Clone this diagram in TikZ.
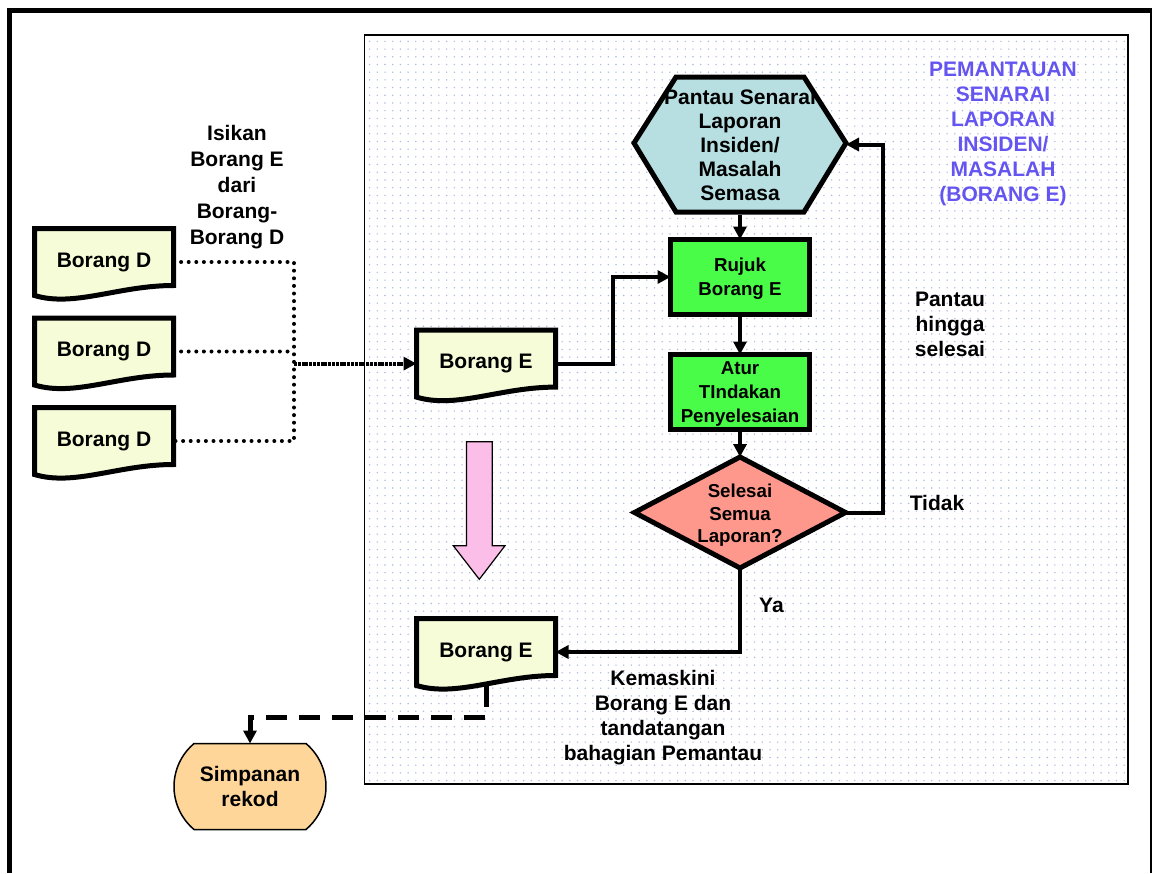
\documentclass[tikz,border=0pt]{standalone}
\usepackage{fontspec}
\setmainfont{Liberation Sans}
\usetikzlibrary{shapes.geometric, shapes.misc, arrows.meta, positioning, backgrounds, patterns.meta}

\definecolor{dokfill}{RGB}{246,252,216}
\definecolor{hexfill}{RGB}{183,222,224}
\definecolor{hijau}{RGB}{72,252,72}
\definecolor{salmon}{RGB}{255,152,140}
\definecolor{pic}{RGB}{251,190,232}
\definecolor{peach}{RGB}{254,214,154}
\definecolor{ungu}{RGB}{100,84,240}
\definecolor{titikbiru}{RGB}{172,184,226}

\begin{document}
\begin{tikzpicture}[x=1pt, y=-1pt,
		font=\bfseries\fontsize{21}{25}\selectfont,
		every node/.style={align=center, inner sep=0, outer sep=0},
		dok/.style={minimum width=139, minimum height=67},
		dokline/.style={draw, line width=5, fill=dokfill},
		heksagon/.style={draw, line width=5, fill=hexfill},
		proses/.style={draw, line width=5, fill=hijau, minimum width=139, minimum height=75, text depth=0pt, font=\bfseries\fontsize{18.7}{24}\selectfont},
		keputusan/.style={diamond, draw, line width=5, fill=salmon, minimum width=211, minimum height=111},
		simpan/.style={rounded rectangle, rounded rectangle arc length=100, draw, line width=1.5, fill=peach, minimum width=152, minimum height=86},
		panel/.style={draw, line width=1.8, pattern={Dots[distance=7.7pt, radius=0.8pt]}, pattern color=titikbiru},
		arrow/.style={-{Triangle[length=13pt, width=13pt]}, line width=4},
		titik/.style={line width=4, line cap=round, dash pattern=on 0pt off 7.6pt},
		rapat/.style={arrow, dash pattern=on 3pt off 0.8pt},
		putus/.style={arrow, line width=5, dash pattern=on 21pt off 12pt}
		]
		
		\useasboundingbox (0,0) rectangle (1154,873);
		
		% Frame
		\draw[line width=5] (9.7,873) |- (1151.2,10.8);
		\draw[line width=2.5] (1151.2,8.3) -- (1151.2,873);
		
		% Nodes
		\node (dokD1) [dok] at (104,262) {Borang D};
		\node (dokD2) [dok] at (104,351.5) {Borang D};
		\node (dokD3) [dok] at (104,441) {Borang D};
		\node (dokE1) [dok] at (486,363.6) {Borang E};
		\node (dokE2) [dok] at (486,652) {Borang E};
		\node (pantau) [minimum width=212, minimum height=135, font=\bfseries\fontsize{21}{24}\selectfont] at (740,144.5) {Pantau Senarai\\Laporan\\Insiden/\\Masalah\\Semasa};
		\node (rujuk) [proses] at (740,277) {Rujuk\\Borang E};
		\node (atur) [proses] at (740,392) {Atur\\TIndakan\\Penyelesaian};
		\node (selesai) [keputusan, label={[align=center, yshift=-3pt, font=\bfseries\fontsize{18.7}{22.5}\selectfont]center:{Selesai\\Semua\\Laporan?}}] at (740,512.5) {};
		\node (simpanan) [simpan] at (250,786.5) {Simpanan\\rekod};
		
		% Labels
		\node (isikan) [font=\bfseries\fontsize{21}{26}\selectfont] at (237,187) {Isikan\\Borang E\\dari\\Borang-\\Borang D};
		\node (judul) [text=ungu] at (1003,134) {PEMANTAUAN\\SENARAI\\LAPORAN\\INSIDEN/\\MASALAH\\(BORANG E)};
		\node (hingga) at (950,324) {Pantau\\hingga\\selesai};
		\node (tidak) at (937,503) {Tidak};
		\node (ya) at (771.5,605) {Ya};
		\node (kemaskini) at (663,718) {Kemaskini\\Borang E dan\\tandatangan\\bahagian Pemantau};
		
		% Shapes behind the text
		\begin{scope}[on background layer]
			\draw[panel] (364.5,35) rectangle (1128,784);
			\foreach \n in {dokD1,dokD2,dokD3,dokE1,dokE2}
				\draw[dokline] (\n.north west) -- (\n.north east) -- ([yshift=10]\n.south east) .. controls +(-55,0) and +(40,12) .. (\n.south west) -- cycle;
			\draw[heksagon] ([yshift=1.5]pantau.west) -- ([xshift=42]pantau.north west) -- ([xshift=-42]pantau.north east) -- ([yshift=1.5]pantau.east) -- ([xshift=-42]pantau.south east) -- ([xshift=42]pantau.south west) -- cycle;
		\end{scope}
		
		% Pink block arrow
		\draw[line width=1.2, fill=pic] (466.5,441.7) -- (492.3,441.7) -- (492.3,545.7) -- (505,545.7) -- (479.3,579.3) -- (453.3,545.7) -- (466.5,545.7) -- cycle;
		
		% Connections
		\coordinate (gabung) at ([xshift=-122.5]dokE1.west);
		\draw[titik] (dokD1.east) -| (gabung) |- (dokD3.east);
		\draw[titik] (dokD2.east) -- (dokD2.east -| gabung);
		\draw[rapat] (gabung) -- (dokE1.west);
		\draw[arrow] (dokE1.east) -- ++(57,0) |- (rujuk.west);
		\draw[arrow] ([yshift=-3]pantau.south) -- (rujuk.north);
		\draw[arrow] (rujuk) -- (atur);
		\draw[arrow] (atur) -- (selesai);
		\draw[arrow] (selesai.east) -- ++(37.5,0) |- (pantau.east);
		\draw[arrow] (selesai.south) |- (dokE2.east);
		\draw[putus] (dokE2.south) -- ++(0,32) -| (simpanan.north);
		
\end{tikzpicture}
\end{document}
